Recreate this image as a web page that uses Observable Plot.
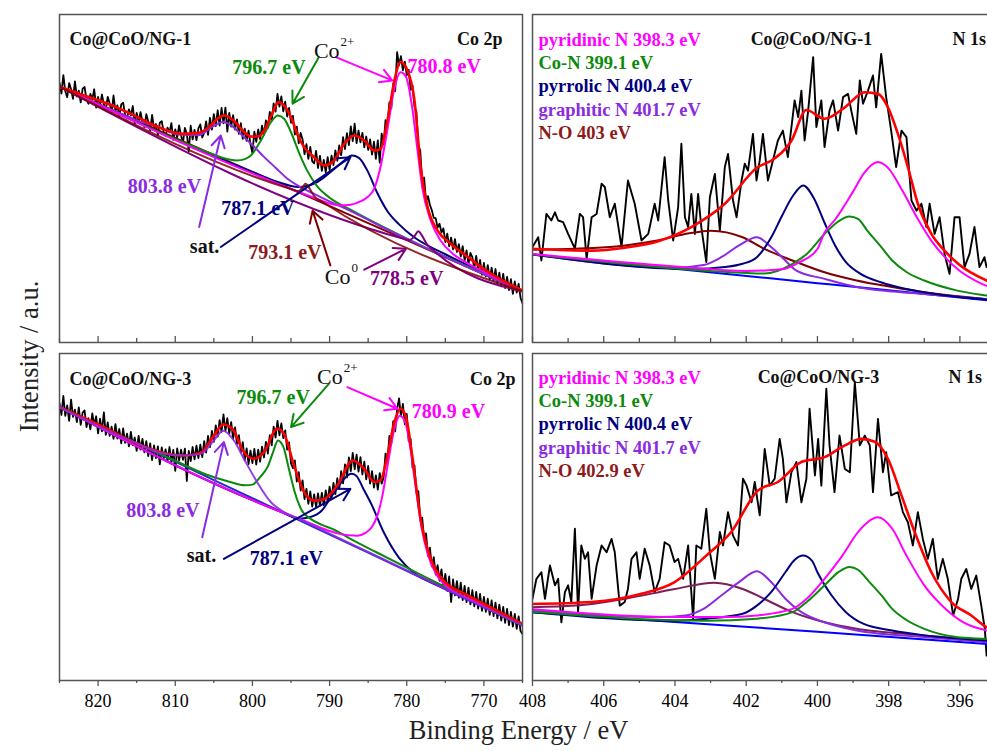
<!DOCTYPE html>
<html>
<head>
<meta charset="utf-8">
<script src="https://cdn.jsdelivr.net/npm/d3@7"></script>
<script src="https://cdn.jsdelivr.net/npm/@observablehq/plot@0.6"></script>
<style>
  html, body { margin: 0; padding: 0; background: #fff; }
  #fig { position: relative; width: 987px; height: 751px; overflow: hidden; background: #fff; }
</style>
</head>
<body>
<div id="fig"></div>
<script>
const SERIF = "'Liberation Serif','Times New Roman',Times,serif";
const W = 1000, H = 751;

const COL = {
  data: "#000000", fit: "#ff0000", mag: "#ff00ff", green: "#0b8a0b", navy: "#000080",
  violet: "#8a2be2", maroon: "#800000", purple: "#800080", blue: "#0000ff",
  noBottom: "#7a1f5c", frame: "#555555", text: "#111111"
};

// ---------- tick values ----------
const coMajor = [820, 810, 800, 790, 780, 770];
const coMinor = [825, 815, 805, 795, 785, 775, 765];
const nMajor = [408, 406, 404, 402, 400, 398, 396];
const nMinor = [407, 405, 403, 401, 399, 397, 395];

// ---------- Co 2p scans (825 -> 765 eV, 0.25 eV step) ----------
const coStart = 825, coStep = 0.25;
const co1Counts = [
  79.2,75.9,81.5,76.6,74.8,79.1,77.2,74.3,79.6,75.0,76.8,73.2,77.4,77.9,74.0,72.8,75.8,74.1,77.2,71.6,
  74.9,72.2,75.6,72.5,71.0,74.9,72.9,70.1,75.3,70.6,72.3,68.8,72.6,73.1,69.4,68.3,71.1,69.2,72.1,66.7,
  70.0,67.3,70.2,67.4,65.6,69.6,67.4,64.6,69.4,65.2,66.6,63.2,67.0,67.5,64.2,63.0,65.5,64.1,66.9,61.8,
  65.0,62.5,66.2,63.1,60.9,65.4,63.6,58.2,66.1,61.9,64.8,61.7,65.3,66.5,62.5,63.9,67.4,63.3,68.5,64.9,
  69.6,66.0,70.8,66.1,71.5,66.8,71.6,64.3,70.0,65.8,69.3,64.9,68.0,63.6,66.9,62.1,65.2,61.5,64.6,60.4,
  57.8,64.3,61.2,65.0,62.0,66.1,63.4,67.7,65.4,70.3,67.6,72.9,70.4,75.8,71.9,75.0,70.5,73.4,68.9,71.5,
  67.0,69.1,63.4,65.8,60.7,63.9,61.9,57.4,60.5,56.0,59.6,55.2,54.6,58.4,53.2,56.9,52.3,55.7,51.9,56.5,
  52.6,57.0,54.1,58.6,55.4,60.1,57.1,62.6,59.0,63.8,60.2,65.9,61.4,66.7,60.8,64.6,61.0,63.9,59.5,62.8,
  58.7,61.9,57.3,61.2,56.0,61.6,54.8,63.7,60.5,67.8,66.1,73.2,71.4,78.9,76.6,88.5,84.5,87.3,83.0,85.6,
  81.5,83.1,77.0,78.3,71.9,70.4,60.1,58.5,48.9,50.3,43.0,44.6,42.0,40.3,38.0,37.9,35.0,36.2,33.5,34.8,
  30.6,33.2,29.3,32.0,28.4,31.5,27.6,30.0,26.2,29.4,25.0,28.1,23.9,27.3,26.0,22.5,26.4,21.9,25.2,20.6,
  24.3,20.1,23.6,19.2,22.8,18.9,22.4,18.0,21.3,17.1,20.9,16.6,20.0,16.0,19.3,14.8,18.6,15.2,17.9,13.6,
  12.0
];
const co3Counts = [
  84.8,81.2,87.0,80.9,84.1,79.4,85.9,80.6,82.8,79.0,83.5,78.2,81.9,82.6,77.5,80.2,76.8,81.7,78.0,80.8,
  75.6,80.1,76.2,82.0,75.1,78.9,74.8,77.6,73.9,78.4,74.0,76.9,72.5,77.1,72.7,75.5,71.6,76.0,71.9,74.3,
  70.2,74.8,70.6,73.9,69.8,73.2,68.6,72.5,67.4,71.9,68.0,71.6,66.1,71.3,67.9,70.7,67.0,71.4,66.8,70.5,
  64.1,71.0,67.3,70.6,67.5,70.9,61.0,70.2,67.1,71.4,67.6,71.8,68.0,72.1,68.3,73.2,69.7,74.8,71.4,76.3,
  73.0,78.0,74.6,79.6,76.0,81.4,76.3,80.2,75.5,79.0,73.9,77.4,72.3,75.0,69.8,72.9,67.3,71.0,66.2,70.3,
  66.5,70.8,66.0,70.6,66.9,71.5,68.2,73.0,69.4,75.0,71.9,77.6,74.3,79.4,75.0,78.6,74.1,76.5,70.6,72.8,
  66.4,64.9,67.3,60.8,63.7,58.1,61.2,55.5,58.6,54.0,57.8,53.2,56.9,53.0,57.2,53.4,57.4,53.6,58.1,54.7,
  59.3,55.6,60.4,57.0,61.9,58.5,64.0,60.3,66.1,62.1,68.2,64.0,69.6,64.6,69.1,63.9,68.3,63.0,66.9,61.5,
  65.6,60.2,64.0,59.0,62.7,58.4,63.4,60.2,62.0,69.4,67.2,74.8,72.6,79.3,76.2,82.9,86.3,80.8,84.6,78.3,
  81.5,73.2,73.9,65.1,65.8,57.4,57.9,49.2,49.8,43.2,45.0,38.1,40.6,34.9,37.7,32.4,35.3,30.5,34.0,28.8,
  32.6,27.4,31.8,24.0,30.9,26.0,30.4,25.3,29.9,24.6,28.9,24.0,28.4,23.3,27.6,22.7,27.1,22.0,26.5,21.3,
  25.6,21.0,25.0,20.1,24.5,19.7,23.8,19.0,23.2,18.3,22.5,17.6,21.9,16.9,21.0,16.5,20.4,15.8,19.6,15.1,
  14.2
];

// ---------- Co 2p fits, NG-1 ([binding energy, intensity]) ----------
const co1Bg = [[825,78.0],[815,67.6],[805,57.2],[795,46.8],[785,36.4],[775,26.0],[765,15.6]];
const co1Env = [[825,78.0],[822,75.5],[819,73.0],[816,70.0],[813,66.5],[811,64.6],[809,63.6],[807,63.9],[805.5,66.0],[804.5,68.3],[803.7,69.2],[802.5,67.8],[801.2,64.5],[800.2,62.8],[799.3,62.8],[798.5,64.5],[797.5,69.5],[796.6,73.3],[795.8,72.0],[795,68.7],[794,62.5],[793.3,59.6],[792,56.5],[790.7,54.0],[789.4,55.5],[788.1,60.6],[786.8,63.1],[785.5,61.6],[784.2,58.5],[783.4,59.0],[782.5,67.7],[781.6,79.9],[780.8,85.5],[779.9,82.9],[779,73.8],[778.2,53.5],[777.3,41.3],[776,34.1],[774.3,30.1],[772,25.9],[770,22.4],[767.5,18.8],[765,15.9]];
const co1Sat = [[825,78.0],[817,69.7],[815,67.8],[812,65.5],[809.5,63.4],[807,63.2],[805.5,65.3],[804.5,66.7],[803.8,67.2],[802.8,66.3],[801.5,63.6],[800,60.2],[798.5,56.6],[797,53.3],[795.5,50.0],[793.7,47.3],[792,45.3],[790,43.0],[788,40.9],[786,38.6],[783,35.0],[775,26.1],[765,15.6]];
const co1P12 = [[825,78.0],[806,58.2],[804,56.4],[803,55.8],[802,55.5],[801,55.9],[800.2,57.0],[798.9,61.6],[797.6,67.2],[796.7,69.2],[795.9,68.2],[795,64.1],[793.9,57.5],[792.9,52.4],[791.6,47.6],[789.9,44.0],[787.3,40.5],[785,37.6],[782,34.0],[778,29.4],[770,20.9],[765,15.6]];
const co1Sat32 = [[825,78.0],[800,52.0],[797,49.2],[794,47.4],[791.6,48.9],[789.4,52.9],[788.1,55.5],[787.1,57.0],[786.2,56.3],[785.1,52.4],[783.8,45.5],[782.5,40.0],[781,36.0],[779,32.0],[777,29.2],[775,26.9],[772,23.4],[770,21.0],[765,15.6]];
const co1P32 = [[825,78.0],[795,46.8],[792,44.1],[790,42.4],[788.6,41.8],[787.3,42.0],[786,43.0],[785,44.5],[784.2,47.0],[783.4,53.5],[782.5,65.0],[781.6,77.5],[780.8,82.4],[780.1,81.0],[779.3,71.7],[778.6,58.5],[778,47.4],[776.9,37.2],[775.6,31.0],[774,27.0],[772,24.0],[770,21.5],[765,15.8]];
const co1Met12 = [[825,78.0],[795,46.8],[794,46.1],[793.5,47.4],[793.1,48.4],[792.6,47.0],[792,44.6],[791,43.0],[765,15.6]];
const co1Met32 = [[825,78.0],[780.5,31.7],[779.7,31.2],[779.0,32.4],[778.5,33.9],[778.0,32.5],[777.4,30.0],[776.5,28.0],[765,15.6]];

// ---------- Co 2p fits, NG-3 ----------
const co3Bg = [[825,83.6],[815,72.5],[805,61.3],[795,50.2],[785,39.1],[775,27.9],[765,16.8]];
const co3Env = [[825,83.6],[819.7,78.0],[815.4,72.9],[811.9,69.8],[808.9,68.8],[806.7,69.6],[805,74.9],[803.8,78.3],[802.6,77.0],[801.1,69.8],[799.8,67.8],[798.5,69.8],[796.8,77.0],[795.9,75.4],[794.6,65.7],[793.3,57.6],[792,55.0],[790.7,55.5],[789,59.6],[787,67.3],[785.5,64.7],[784.2,60.7],[783.4,61.2],[782.5,68.8],[781.6,79.0],[780.8,83.1],[780.1,80.5],[779.3,68.8],[778.2,49.4],[776.9,37.2],[775.6,31.6],[772.1,26.0],[770,23.4],[765,17.3]];
const co3Sat = [[825,83.6],[815,72.5],[811.9,69.6],[808.9,68.8],[806.7,69.3],[805,73.4],[803.8,76.4],[802.4,73.4],[801.1,67.8],[799.4,60.7],[797.6,54.5],[795.9,51.5],[794,49.5],[790,44.9],[785,39.3],[765,16.8]];
const co3P12 = [[825,83.6],[810,67.2],[806,63.0],[803,60.8],[801,59.7],[800,59.9],[799,62.2],[798,65.5],[797.3,70.0],[796.7,73.4],[796,71.5],[795.3,65.0],[794.5,57.5],[793.6,52.0],[792.5,49.5],[791,47.6],[789.4,46.1],[787.3,43.3],[784,39.3],[780,34.5],[775,28.6],[770,22.6],[765,16.8]];
const co3Sat32 = [[825,83.6],[796,51.3],[794,49.5],[792.5,50.0],[791,52.0],[789.7,56.5],[788.5,60.5],[787.6,62.8],[787.1,63.2],[786.5,62.5],[785.6,58.5],[784.6,54.0],[783,45.4],[781,37.5],[779,32.8],[777,30.2],[775,28.2],[773,25.8],[770,22.5],[765,16.8]];
const co3P32 = [[825,83.6],[796,51.3],[793,48.6],[791,46.6],[789,45.0],[787.5,44.4],[786.4,44.3],[785.3,45.2],[784.5,47.0],[783.8,50.5],[783.2,56.0],[782.5,65.5],[781.7,76.0],[780.9,81.0],[780.2,79.0],[779.5,70.5],[778.8,58.5],[778.1,47.0],[777.2,38.0],[776,31.8],[774.5,28.2],[772,25.0],[770,22.9],[765,17.0]];

// ---------- N 1s scans ----------
const n1Energy = [408.00,407.84,407.75,407.61,407.47,407.37,407.28,407.14,407.00,406.81,406.67,406.58,406.48,406.34,406.20,406.06,405.97,405.83,405.69,405.50,405.32,405.13,404.94,404.75,404.57,404.47,404.29,404.19,404.05,403.91,403.82,403.72,403.63,403.54,403.44,403.35,403.26,403.12,403.02,402.88,402.74,402.60,402.51,402.37,402.27,402.13,402.04,401.95,401.81,401.71,401.62,401.53,401.39,401.25,401.11,400.97,400.83,400.64,400.54,400.45,400.36,400.26,400.12,400.03,399.89,399.80,399.66,399.56,399.42,399.28,399.14,399.05,398.91,398.81,398.72,398.58,398.44,398.35,398.21,398.07,397.93,397.79,397.64,397.50,397.36,397.22,397.08,396.94,396.85,396.71,396.57,396.43,396.29,396.15,396.01,395.87,395.73,395.59,395.45,395.31,395.25];
const n1Counts = [29.1,32.1,25.0,39.2,37.2,39.7,37.2,36.7,33.1,28.6,39.2,38.2,25.5,38.2,39.2,48.4,47.4,38.2,42.3,29.1,49.4,42.3,31.1,33.1,42.3,37.2,56.5,43.3,31.1,41.3,60.6,38.2,35.2,45.3,33.1,45.3,35.2,24.5,44.3,51.4,34.1,53.5,57.5,43.3,38.2,49.4,54.5,52.4,63.6,49.4,55.5,63.6,49.4,55.5,61.6,64.6,56.5,73.8,68.7,76.8,61.6,70.7,87.0,65.7,73.8,59.6,70.7,73.8,64.6,74.8,75.8,70.7,63.6,79.9,72.8,76.8,81.4,71.7,88.0,74.8,64.6,53.5,64.6,62.6,43.3,40.2,42.3,35.2,42.3,33.1,38.2,27.0,20.9,38.2,38.2,23.0,27.0,35.2,23.0,26.0,23.0];
const n3Energy = [408.00,407.89,407.75,407.65,407.51,407.37,407.28,407.19,407.09,407.00,406.91,406.81,406.72,406.63,406.53,406.44,406.34,406.20,406.06,405.92,405.78,405.69,405.55,405.41,405.32,405.22,405.08,404.99,404.85,404.71,404.57,404.43,404.29,404.15,404.01,403.91,403.77,403.63,403.49,403.40,403.26,403.12,403.02,402.88,402.74,402.65,402.51,402.37,402.23,402.09,401.99,401.85,401.76,401.62,401.48,401.34,401.20,401.06,400.97,400.87,400.73,400.59,400.45,400.31,400.22,400.07,399.98,399.89,399.75,399.66,399.52,399.38,399.23,399.09,398.95,398.81,398.67,398.53,398.44,398.30,398.16,398.07,397.93,397.74,397.60,397.46,397.32,397.18,397.04,396.90,396.76,396.62,396.48,396.34,396.19,396.05,395.96,395.82,395.68,395.54,395.40,395.30,395.25];
const n3Counts = [25.0,31.1,33.1,25.0,35.2,29.1,31.1,17.8,27.0,29.1,24.0,46.4,20.9,41.3,37.2,39.2,25.0,35.2,41.3,39.2,43.3,39.2,22.9,24.0,28.0,37.2,39.2,31.1,40.3,35.2,27.0,31.1,42.3,41.3,36.2,37.2,31.1,41.3,18.9,41.3,40.3,52.5,39.2,31.1,45.4,41.3,51.5,44.3,41.3,61.7,59.6,54.5,60.7,50.5,70.8,59.6,61.7,73.9,67.8,54.5,63.7,66.8,54.5,61.7,83.1,62.7,73.9,59.6,89.2,71.9,57.6,74.9,64.7,63.7,91.2,71.9,74.9,71.9,57.6,80.0,63.7,69.8,56.6,57.6,51.5,48.4,41.3,51.5,43.3,37.2,43.3,31.1,37.2,31.1,19.9,25.0,31.1,34.1,28.0,32.1,22.9,15.8,7.6];

// ---------- N 1s fits, NG-1 ----------
const n1Bg = [[408,26.8],[404,22.5],[400,18.1],[396,13.7],[395,12.6]];
const n1Env = [[408,28.6],[406.34,28.0],[405.41,28.9],[404.47,30.9],[403.54,35.2],[402.6,42.3],[401.67,53.5],[401.29,55.5],[400.73,61.5],[400.31,70.9],[399.8,68.2],[399.23,71.7],[398.67,76.3],[398.3,75.8],[398.02,71.7],[397.74,63.6],[397.46,53.5],[397.18,42.3],[396.8,33.1],[396.43,28.0],[396.05,24.0],[395.25,18.9],[395,17.8]];
const n1Pyridinic = [[408,27.0],[404,23.2],[402,21.8],[401,22.3],[400.5,24.5],[400,28.5],[399.8,33.5],[399.5,37.5],[399,46.0],[398.7,51.5],[398.3,55.0],[398,53.0],[397.6,46.0],[397.2,38.0],[396.8,31.0],[396.4,25.8],[396,21.8],[395.5,18.5],[395,16.2]];
const n1CoN = [[408,26.9],[403,21.8],[401.5,21.0],[400.7,24.0],[400.3,27.0],[399.8,33.1],[399.4,37.0],[399.1,38.4],[398.85,37.6],[398.6,34.1],[398.2,29.0],[397.9,25.0],[397.5,21.5],[397,18.9],[396.1,15.9],[395.25,14.3],[395,13.9]];
const n1Pyrrolic = [[408,26.8],[403.5,22.4],[402.6,23.0],[402.1,24.0],[401.7,26.0],[401.3,32.0],[401.0,38.5],[400.7,44.5],[400.4,47.9],[400.1,44.0],[399.8,36.5],[399.5,29.5],[399.2,24.5],[398.8,21.0],[398.2,18.3],[397.5,16.3],[396.5,14.5],[395,12.9]];
const n1Graphitic = [[408,26.9],[404,22.8],[403.2,23.6],[402.7,26.0],[402.2,29.6],[401.7,32.1],[401.3,29.1],[400.9,25.0],[400.6,22.0],[399.8,19.4],[398.9,16.9],[397,14.8],[395.25,13.2],[395,12.9]];
const n1NO = [[408,28.3],[406.8,28.6],[405.4,29.6],[404.5,31.1],[403.6,33.3],[403.0,34.1],[402.1,32.1],[401.5,28.6],[400.7,25.0],[399.8,21.4],[398.9,18.9],[397.9,16.9],[397,15.3],[395.25,13.2],[395,12.9]];

// ---------- N 1s fits, NG-3 ----------
const n3Bg = [[408,20.9],[404,17.9],[400,14.9],[396,11.8],[395,11.0]];
const n3Env = [[408,23.4],[406.34,24.0],[404.94,26.5],[404.01,30.1],[403.07,38.7],[402.42,45.4],[401.67,58.1],[401.11,60.7],[400.45,66.8],[399.8,68.3],[399.23,71.9],[398.77,73.9],[398.39,73.0],[398.02,67.8],[397.64,56.6],[397.27,45.4],[396.8,33.1],[396.24,24.0],[395.68,19.9],[395.25,16.3],[395,15.2]];
const n3Pyridinic = [[408,21.8],[404,19.4],[402.6,19.4],[401.7,19.9],[400.7,21.9],[400.3,25.0],[399.8,31.1],[399.3,38.2],[398.86,45.4],[398.3,49.9],[397.9,46.4],[397.5,38.2],[397.0,29.1],[396.4,21.9],[395.9,17.8],[395.25,15.3],[395,14.6]];
const n3CoN = [[408,21.0],[403.1,18.3],[401.7,18.9],[400.7,20.9],[400.3,24.0],[399.8,29.1],[399.4,33.2],[399.1,34.7],[398.85,33.8],[398.58,30.6],[398.2,26.0],[397.9,21.9],[397.5,18.5],[397.0,15.8],[396.1,13.3],[395.25,12.7],[395,12.5]];
const n3Pyrrolic = [[408,20.9],[404,18.3],[403.1,18.9],[402.1,20.4],[401.7,22.9],[401.3,27.0],[400.9,33.1],[400.65,36.8],[400.4,38.2],[400.15,36.6],[400.0,33.1],[399.6,26.0],[399.2,20.9],[398.7,17.3],[397.9,15.3],[397.0,13.8],[395.25,12.2],[395,12.0]];
const n3Graphitic = [[408,21.4],[404.5,19.4],[403.7,19.9],[403.2,21.9],[402.7,26.0],[402.2,30.1],[401.7,33.4],[401.3,30.1],[400.9,25.0],[400.45,20.9],[399.8,17.8],[398.9,15.3],[397.0,13.3],[395.25,11.7],[395,11.5]];
const n3NO = [[408,22.4],[406.8,22.9],[405.4,25.0],[404.0,28.0],[402.9,29.9],[402.1,28.0],[401.5,25.0],[400.7,20.9],[399.8,17.8],[398.9,15.8],[397.0,13.8],[395.25,12.2],[395,12.0]];

// ---------- component names for the N 1s panels ----------
const n1Legend = [
  {text: "pyridinic N 398.3 eV", color: COL.mag},
  {text: "Co-N 399.1 eV", color: COL.green},
  {text: "pyrrolic N 400.4 eV", color: COL.navy},
  {text: "graphitic N 401.7 eV", color: COL.violet},
  {text: "N-O 403 eV", color: "#8b1a1a"}
];
const n3Legend = [
  {text: "pyridinic N 398.3 eV", color: COL.mag},
  {text: "Co-N 399.1 eV", color: COL.green},
  {text: "pyrrolic N 400.4 eV", color: COL.navy},
  {text: "graphitic N 401.7 eV", color: COL.violet},
  {text: "N-O 402.9 eV", color: "#8b1a1a"}
];

// ---------- peak annotations (binding energy, intensity) ----------
const co1Notes = [
  {text: "796.7 eV", x: 797.85, y: 83.9, color: COL.green},
  {text: "780.8 eV", x: 775.15, y: 84.2, color: COL.mag},
  {text: "803.8 eV", x: 811.4, y: 47.4, color: COL.violet},
  {text: "787.1 eV", x: 799.3, y: 40.8, color: COL.navy},
  {text: "sat.", x: 806.2, y: 29.1, color: COL.text},
  {text: "793.1 eV", x: 795.8, y: 27.5, color: "#8b1a1a"},
  {text: "778.5 eV", x: 780.0, y: 19.4, color: COL.purple}
];
const co1Ions = [{x: 788.7, y: 89.0, charge: "2+"}, {x: 787.3, y: 19.9, charge: "0"}];
const co1Arrows = [
  {x1: 791.4, y1: 87.0, x2: 794.8, y2: 72.8, color: COL.green},
  {x1: 789.2, y1: 87.0, x2: 781.9, y2: 79.9, color: COL.mag},
  {x1: 806.9, y1: 35.2, x2: 804.1, y2: 63.1, color: COL.violet},
  {x1: 804.1, y1: 29.1, x2: 787.3, y2: 56.5, color: COL.navy},
  {x1: 789.9, y1: 23.5, x2: 792.2, y2: 40.2, color: COL.maroon},
  {x1: 785.5, y1: 22.2, x2: 780.1, y2: 28.6, color: COL.purple}
];
const co3Notes = [
  {text: "796.7 eV", x: 797.3, y: 86.6, color: COL.green},
  {text: "780.9 eV", x: 774.6, y: 82.1, color: COL.mag},
  {text: "803.8 eV", x: 811.6, y: 52.0, color: COL.violet},
  {text: "sat.", x: 806.6, y: 38.2, color: COL.text},
  {text: "787.1 eV", x: 795.6, y: 37.2, color: COL.navy}
];
const co3Ions = [{x: 788.3, y: 92.8, charge: "2+"}];
const co3Arrows = [
  {x1: 790.1, y1: 90.7, x2: 795.0, y2: 77.5, color: COL.green},
  {x1: 787.7, y1: 89.7, x2: 781.2, y2: 83.1, color: COL.mag},
  {x1: 806.5, y1: 43.8, x2: 803.7, y2: 72.9, color: COL.violet},
  {x1: 803.7, y1: 37.2, x2: 787.3, y2: 58.6, color: COL.navy}
];

// ---------- helpers ----------
const coScan = counts => counts.map((v, i) => ({be: coStart - i * coStep, v}));
const nScan = (energy, counts) => energy.map((be, i) => ({be, v: counts[i]}));

const scanLine = (pts, width = 1.6) =>
  Plot.line(pts, {x: "be", y: "v", stroke: COL.data, strokeWidth: width, clip: true});
const fitLine = (pts, stroke, width = 2, opacity = 1) =>
  Plot.line(pts, {x: d => d[0], y: d => d[1], stroke, strokeWidth: width, strokeOpacity: opacity, curve: "monotone-x", clip: true});

const tag = (txt, opts) => Plot.text([txt], {
  frameAnchor: "top-left", fontFamily: SERIF, fontWeight: "bold", fontSize: 18, fill: COL.text, ...opts
});
const notes = list => Plot.text(list, {
  x: "x", y: "y", text: "text", fill: "color", fontFamily: SERIF, fontWeight: "bold", fontSize: 20
});
const arrows = list => Plot.arrow(list, {
  x1: "x1", y1: "y1", x2: "x2", y2: "y2", stroke: "color", strokeWidth: 2, headLength: 10
});
const ions = list => [
  Plot.text(list, {x: "x", y: "y", text: () => "Co", textAnchor: "end", fontFamily: SERIF, fontSize: 22, fill: COL.text}),
  Plot.text(list, {x: "x", y: "y", text: "charge", textAnchor: "start", dx: 1, dy: -9, fontFamily: SERIF, fontSize: 13, fill: COL.text})
];
const legend = (list, top) => list.map((d, i) => tag(d.text, {dx: 6, dy: top + 23.3 * i, fill: d.color, fontSize: 18.5}));

function panel({domain, box, major, minor, labelled, marks}) {
  const [left, top, right, bottom] = box;
  const inner = bottom - top;
  const axisMarks = labelled
    ? [
        Plot.axisX({ticks: major, tickSize: 6, tickPadding: 8, tickFormat: d => String(d), fontSize: 18, fontFamily: SERIF, label: null, stroke: COL.frame, strokeWidth: 1.3}),
        Plot.axisX({ticks: minor, tickSize: 3, tickFormat: () => "", label: null, stroke: COL.frame, strokeWidth: 1.3})
      ]
    : [
        Plot.ruleX(major, {insetTop: inner - 6, stroke: COL.frame, strokeWidth: 1.3}),
        Plot.ruleX(minor, {insetTop: inner - 4, stroke: COL.frame, strokeWidth: 1.3})
      ];
  return Plot.plot({
    width: W, height: H,
    marginLeft: left, marginRight: W - right, marginTop: top, marginBottom: H - bottom,
    x: labelled ? {domain} : {domain, axis: null},
    y: {domain: [0, 100], axis: null},
    color: {type: "identity"},
    style: `position:absolute;left:0;top:0;max-width:none;background:transparent;overflow:hidden;font-family:${SERIF};`,
    marks: [...axisMarks, ...marks, Plot.frame({stroke: COL.frame, strokeWidth: 1.5})]
  });
}

const LEFT = [59, 522];
const RIGHT = [532, 995];
const TOP = [14, 342];
const BOTTOM = [353, 680];

const fig = document.getElementById("fig");

// Co 2p, Co@CoO/NG-1
fig.append(panel({
  domain: [825, 765], box: [LEFT[0], TOP[0], LEFT[1], TOP[1]], major: coMajor, minor: coMinor, labelled: false,
  marks: [
    scanLine(coScan(co1Counts), 1.8),
    fitLine(co1Bg, COL.maroon),
    fitLine(co1Sat32, COL.navy),
    fitLine(co1P12, COL.green),
    fitLine(co1Sat, COL.violet),
    fitLine(co1P32, COL.mag),
    fitLine(co1Met32, COL.purple),
    fitLine(co1Env, COL.fit, 2.6),
    fitLine(co1Met12, COL.maroon, 2, 0.85),
    arrows(co1Arrows),
    notes(co1Notes),
    ...ions(co1Ions),
    tag("Co@CoO/NG-1", {dx: 10, dy: 18}),
    tag("Co 2p", {frameAnchor: "top-right", dx: -20, dy: 18, textAnchor: "end"}),
    tag("Intensity / a.u.", {dx: -40, dy: 342, rotate: -90, fontWeight: "normal", fontSize: 26.5, textAnchor: "middle", fill: "#222"})
  ]
}));

// Co 2p, Co@CoO/NG-3
fig.append(panel({
  domain: [825, 765], box: [LEFT[0], BOTTOM[0], LEFT[1], BOTTOM[1]], major: coMajor, minor: coMinor, labelled: true,
  marks: [
    scanLine(coScan(co3Counts), 1.8),
    fitLine(co3Bg, "#2a2ad0"),
    fitLine(co3Sat32, COL.navy),
    fitLine(co3P12, COL.green),
    fitLine(co3P32, COL.mag),
    fitLine(co3Env, COL.fit, 2.6),
    fitLine(co3Sat, COL.violet, 2, 0.9),
    arrows(co3Arrows),
    notes(co3Notes),
    ...ions(co3Ions),
    tag("Co@CoO/NG-3", {dx: 10, dy: 19}),
    tag("Co 2p", {frameAnchor: "top-right", dx: -7, dy: 19, textAnchor: "end"}),
    tag("Binding Energy / eV", {frameAnchor: "bottom-left", dx: 459, dy: 58, fontWeight: "normal", fontSize: 26.5, textAnchor: "middle", fill: "#222"})
  ]
}));

// N 1s, Co@CoO/NG-1
fig.append(panel({
  domain: [408, 395], box: [RIGHT[0], TOP[0], RIGHT[1], TOP[1]], major: nMajor, minor: nMinor, labelled: false,
  marks: [
    scanLine(nScan(n1Energy, n1Counts), 1.9),
    fitLine(n1Bg, COL.blue),
    fitLine(n1NO, COL.maroon),
    fitLine(n1Graphitic, COL.violet),
    fitLine(n1Pyrrolic, COL.navy),
    fitLine(n1CoN, COL.green),
    fitLine(n1Pyridinic, COL.mag),
    fitLine(n1Env, COL.fit, 2.6),
    ...legend(n1Legend, 18),
    tag("Co@CoO/NG-1", {dx: 279, dy: 18, textAnchor: "middle"}),
    tag("N 1s", {dx: 420, dy: 18, textAnchor: "start"})
  ]
}));

// N 1s, Co@CoO/NG-3
fig.append(panel({
  domain: [408, 395], box: [RIGHT[0], BOTTOM[0], RIGHT[1], BOTTOM[1]], major: nMajor, minor: nMinor, labelled: true,
  marks: [
    scanLine(nScan(n3Energy, n3Counts), 1.9),
    fitLine(n3Bg, COL.blue),
    fitLine(n3NO, COL.noBottom),
    fitLine(n3Graphitic, COL.violet),
    fitLine(n3Pyrrolic, COL.navy),
    fitLine(n3CoN, COL.green),
    fitLine(n3Pyridinic, COL.mag),
    fitLine(n3Env, COL.fit, 2.6),
    ...legend(n3Legend, 17),
    tag("Co@CoO/NG-3", {dx: 286, dy: 17, textAnchor: "middle"}),
    tag("N 1s", {dx: 416, dy: 17, textAnchor: "start"})
  ]
}));
</script>
</body>
</html>
